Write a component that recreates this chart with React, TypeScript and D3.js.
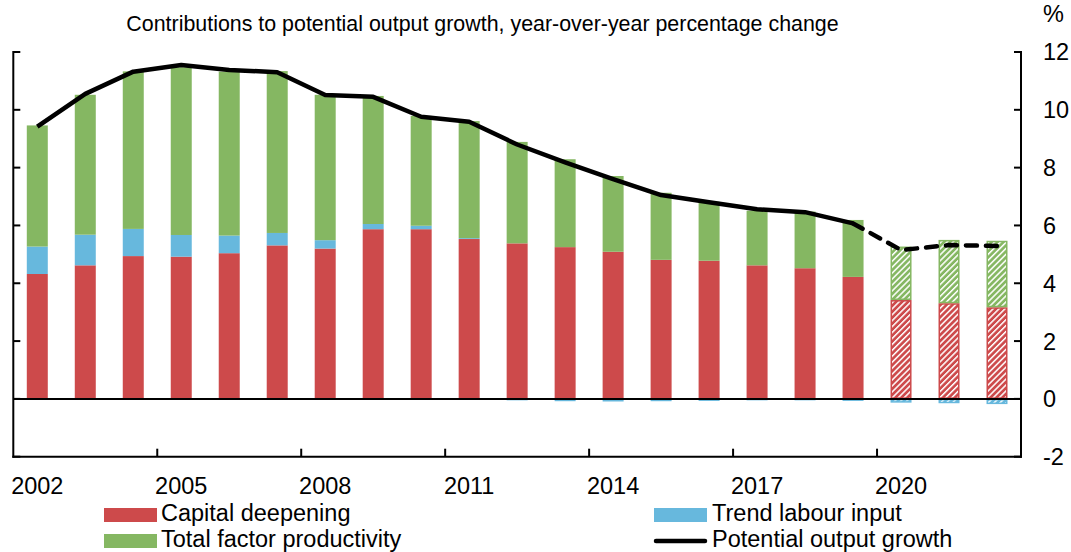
import React from "react";
import * as d3 from "d3";

const years = [2002, 2003, 2004, 2005, 2006, 2007, 2008, 2009, 2010, 2011, 2012, 2013, 2014, 2015, 2016, 2017, 2018, 2019, 2020, 2021, 2022];
const capitalDeepening = [4.32, 4.62, 4.94, 4.92, 5.04, 5.31, 5.2, 5.87, 5.87, 5.53, 5.38, 5.25, 5.09, 4.81, 4.78, 4.62, 4.52, 4.22, 3.42, 3.31, 3.17];
const trendLabour = [0.95, 1.06, 0.94, 0.75, 0.61, 0.43, 0.29, 0.18, 0.12, 0.03, -0.05, -0.08, -0.09, -0.08, -0.07, -0.05, -0.05, -0.07, -0.13, -0.15, -0.18];
const totalFactorProductivity = [4.19, 4.84, 5.45, 5.8, 5.67, 5.6, 5.03, 4.43, 3.8, 4.05, 3.51, 3.04, 2.62, 2.32, 2.04, 1.89, 1.96, 1.97, 1.85, 2.19, 2.3];
const potentialGrowth = [9.42, 10.55, 11.32, 11.55, 11.38, 11.3, 10.51, 10.45, 9.76, 9.59, 8.8, 8.18, 7.6, 7.05, 6.8, 6.56, 6.46, 6.07, 5.15, 5.32, 5.29];
const firstProjectionYear = 2020;
const yTicks = [-2, 0, 2, 4, 6, 8, 10, 12];
const xLabelYears = [2002, 2005, 2008, 2011, 2014, 2017, 2020];

const subtitle = "Contributions to potential output growth, year-over-year percentage change";
const seriesKeys = ["capital", "labour", "tfp"];
const seriesNames = ["Capital deepening", "Trend labour input", "Total factor productivity", "Potential output growth"];
const colors: Record<string, string> = { capital: "#CD4A4B", labour: "#67B8DD", tfp: "#85B762" };

const W = 1071;
const H = 552;
const FONT = "'Liberation Sans', Arial, sans-serif";
const FS = 23.5;

export default function App() {
  const left = 13.3;
  const right = 1021;
  const top = 52;
  const bottom = 456.7;

  const x = d3.scaleBand<number>().domain(years).range([left, right]).paddingInner(0.5625).paddingOuter(0.28125);
  const y = d3.scaleLinear().domain([-2, 12]).range([bottom, top]);

  const rows = years.map((yr, i) => ({
    year: yr,
    capital: capitalDeepening[i],
    labour: trendLabour[i],
    tfp: totalFactorProductivity[i],
  }));
  const stacked = d3.stack<any>().keys(seriesKeys).offset(d3.stackOffsetDiverging)(rows);

  const cx = (yr: number) => (x(yr) as number) + x.bandwidth() / 2;
  const solidIdx = years.map((_, i) => i).filter((i) => years[i] < firstProjectionYear);
  const dashIdx = years.map((_, i) => i).filter((i) => years[i] >= firstProjectionYear - 1);
  const lineGen = d3.line<number>().x((i) => cx(years[i])).y((i) => y(potentialGrowth[i]));
  const solidPath = lineGen(solidIdx) || "";
  const dashPath = lineGen(dashIdx) || "";

  const step = x.step();
  const tickXs = xLabelYears.filter((yr) => yr !== years[0]).map((yr) => (x(yr) as number) - (step - x.bandwidth()) / 2);

  return (
    <svg width={W} height={H} style={{ position: "absolute", left: 0, top: 0, background: "#fff" }} fontFamily={FONT}>
      <defs>
        {seriesKeys.map((k) => (
          <pattern key={k} id={`hatch-${k}`} patternUnits="userSpaceOnUse" width={4.2} height={4.2} patternTransform="rotate(45)">
            <rect width={4.2} height={4.2} fill={colors[k]} />
            <rect width={1.5} height={4.2} fill="#fff" />
          </pattern>
        ))}
      </defs>
      <rect x={0} y={0} width={W} height={H} fill="#fff" />

      <text x={482.5} y={31} fontSize={21.4} textAnchor="middle" fill="#000">{subtitle}</text>
      <text x={1043} y={22} fontSize={FS} fill="#000">%</text>

      {stacked.map((s) =>
        s.map((d: any, i: number) => {
          const yr = years[i];
          const proj = yr >= firstProjectionYear;
          const y0 = y(Math.max(d[0], d[1]));
          const y1 = y(Math.min(d[0], d[1]));
          const h = y1 - y0;
          if (h <= 0) return null;
          return proj ? (
            <rect key={s.key + yr} x={(x(yr) as number) + 0.75} y={y0 + 0.75} width={x.bandwidth() - 1.5} height={Math.max(h - 1.5, 0.5)}
              fill={`url(#hatch-${s.key})`} stroke={colors[s.key]} strokeWidth={1.5} />
          ) : (
            <rect key={s.key + yr} x={x(yr) as number} y={y0} width={x.bandwidth()} height={h} fill={colors[s.key]} />
          );
        })
      )}

      <line x1={left} x2={right} y1={y(0)} y2={y(0)} stroke="#000" strokeWidth={2} />

      <line x1={left} x2={left} y1={top - 1} y2={bottom + 1} stroke="#000" strokeWidth={2} />
      <line x1={right} x2={right} y1={top - 1} y2={bottom + 1} stroke="#000" strokeWidth={2} />
      <line x1={left - 1} x2={right + 1} y1={bottom} y2={bottom} stroke="#000" strokeWidth={2} />
      {yTicks.map((t) => (
        <g key={t}>
          <line x1={left} x2={left + 7} y1={y(t)} y2={y(t)} stroke="#000" strokeWidth={2} />
          <line x1={right - 7} x2={right} y1={y(t)} y2={y(t)} stroke="#000" strokeWidth={2} />
          <text x={1043} y={y(t)} dy="0.36em" fontSize={FS} fill="#000">{t}</text>
        </g>
      ))}
      {tickXs.map((tx, i) => (
        <line key={i} x1={tx} x2={tx} y1={bottom} y2={bottom - 8} stroke="#000" strokeWidth={2} />
      ))}
      {xLabelYears.map((yr) => (
        <text key={yr} x={cx(yr)} y={493.5} fontSize={FS} textAnchor="middle" fill="#000">{yr}</text>
      ))}

      <path d={solidPath} fill="none" stroke="#000" strokeWidth={4.5} strokeLinejoin="round" />
      <path d={dashPath} fill="none" stroke="#000" strokeWidth={4.5} strokeDasharray="11 9" strokeLinecap="round" strokeLinejoin="round" />

      <rect x={104} y={508} width={53} height={14} fill={colors.capital} />
      <text x={161} y={520.5} fontSize={FS} fill="#000">{seriesNames[0]}</text>
      <rect x={104} y={534} width={53} height={14} fill={colors.tfp} />
      <text x={161} y={546.5} fontSize={FS} fill="#000">{seriesNames[2]}</text>
      <rect x={654} y={508} width={53} height={14} fill={colors.labour} />
      <text x={712} y={520.5} fontSize={FS} fill="#000">{seriesNames[1]}</text>
      <line x1={656} x2={705} y1={541} y2={541} stroke="#000" strokeWidth={4.5} strokeLinecap="round" />
      <text x={712} y={546.5} fontSize={FS} fill="#000">{seriesNames[3]}</text>
    </svg>
  );
}
